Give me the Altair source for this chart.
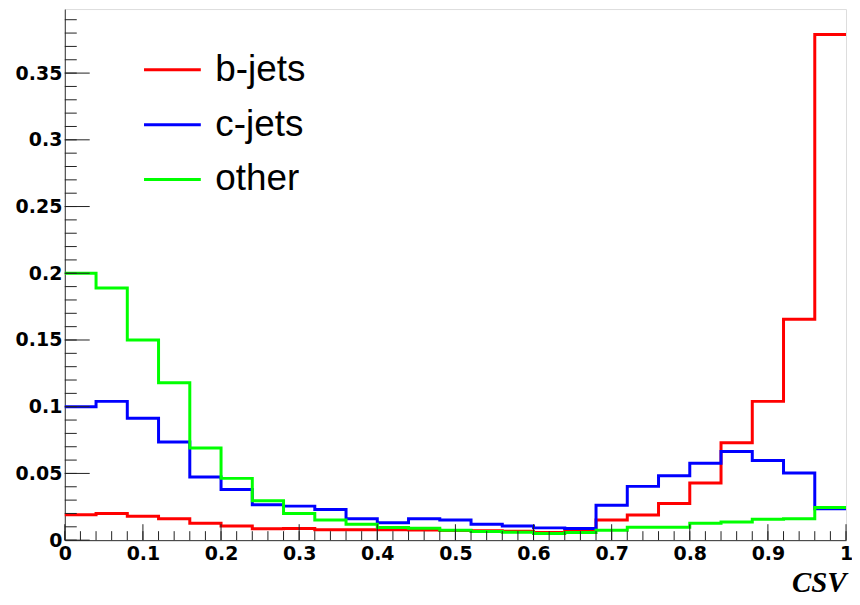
import altair as alt
import pandas as pd
import numpy as np

# 25 bins of width 0.04 on [0, 1]
bin_edges = [round(0.04 * i, 2) for i in range(26)]

b_jets = [0.019, 0.020, 0.018, 0.016, 0.0126, 0.0106, 0.0085, 0.0087, 0.0078, 0.0078,
          0.0078, 0.0076, 0.0073, 0.0071, 0.0066, 0.0057, 0.0077, 0.0151, 0.0188, 0.0275,
          0.0429, 0.073, 0.104, 0.1655, 0.379]
c_jets = [0.100, 0.104, 0.0914, 0.0736, 0.0473, 0.0379, 0.0265, 0.0255, 0.023, 0.0161,
          0.0131, 0.0161, 0.0151, 0.0119, 0.0106, 0.0092, 0.0087, 0.0262, 0.0403, 0.0483,
          0.0577, 0.0664, 0.0597, 0.0503, 0.0235]
other = [0.200, 0.189, 0.150, 0.118, 0.069, 0.0463, 0.0295, 0.020, 0.0151, 0.0119,
         0.0094, 0.0089, 0.0074, 0.0065, 0.0060, 0.0050, 0.0057, 0.0074, 0.0097, 0.0097,
         0.0126, 0.0136, 0.0156, 0.0161, 0.0245]

series_names = ["b-jets", "c-jets", "other"]
series_colors = ["#ff0000", "#0000ff", "#00ff00"]

y_major = [0, 0.05, 0.1, 0.15, 0.2, 0.25, 0.3, 0.35]
y_minor = [round(0.01 * i, 2) for i in range(40)]
x_major = [round(0.1 * i, 1) for i in range(11)]
x_minor = [round(0.02 * i, 2) for i in range(51)]

rows = []
for name, vals in zip(series_names, [b_jets, c_jets, other]):
    for i, e in enumerate(bin_edges):
        v = vals[i] if i < len(vals) else vals[-1]
        rows.append({"series": name, "x": e, "y": v})
df = pd.DataFrame(rows)

W, H = 784, 533
xs = alt.Scale(domain=[0, 1], nice=False, zero=False)
ys = alt.Scale(domain=[0, 0.398], nice=False, zero=False)

x_axis = alt.Axis(
    values=x_major, format=".1~f", title="CSV", tickSize=0,
    labelFont="DejaVu Sans", labelFontWeight="bold", labelFontSize=19,
    labelColor="black", labelPadding=4, domainColor="#333", domainWidth=1,
    titleFont="Liberation Serif", titleFontStyle="italic", titleFontWeight="bold",
    titleFontSize=29, titleColor="black", titleAnchor="end", titlePadding=6,
    grid=False, labelFlush=False)
y_axis = alt.Axis(
    values=y_major, format=".2~f", title=None, tickSize=0,
    labelFont="DejaVu Sans", labelFontWeight="bold", labelFontSize=19,
    labelColor="black", labelPadding=3, domainColor="#333", domainWidth=1,
    grid=False, labelFlush=False)

lines = alt.Chart(df).mark_line(interpolate="step-after", strokeWidth=3).encode(
    x=alt.X("x:Q", scale=xs, axis=x_axis),
    y=alt.Y("y:Q", scale=ys, axis=y_axis),
    color=alt.Color("series:N",
                    scale=alt.Scale(domain=series_names, range=series_colors),
                    legend=alt.Legend(orient="none", legendX=78, legendY=31, title=None,
                                      symbolType="stroke", symbolStrokeWidth=3,
                                      symbolSize=3249, labelFontSize=37,
                                      labelFont="Liberation Sans", labelColor="black",
                                      labelOffset=13, rowPadding=7, padding=0)),
)

tick_col = "#222"
ymaj = alt.Chart(pd.DataFrame({"v": y_major})).mark_rule(color=tick_col, strokeWidth=1).encode(
    y=alt.Y("v:Q", scale=ys, axis=y_axis), x=alt.value(0), x2=alt.value(25))
ymin = alt.Chart(pd.DataFrame({"v": y_minor})).mark_rule(color=tick_col, strokeWidth=1).encode(
    y=alt.Y("v:Q", scale=ys, axis=y_axis), x=alt.value(0), x2=alt.value(12))
xmaj = alt.Chart(pd.DataFrame({"v": x_major})).mark_rule(color=tick_col, strokeWidth=1).encode(
    x=alt.X("v:Q", scale=xs, axis=x_axis), y=alt.value(H), y2=alt.value(H - 16))
xmin = alt.Chart(pd.DataFrame({"v": x_minor})).mark_rule(color=tick_col, strokeWidth=1).encode(
    x=alt.X("v:Q", scale=xs, axis=x_axis), y=alt.value(H), y2=alt.value(H - 9))

chart = alt.layer(lines, ymin, ymaj, xmin, xmaj).properties(
    width=W, height=H,
    autosize=alt.AutoSizeParams(type="none"),
    padding={"left": 57, "top": 0, "right": 6, "bottom": 56},
).configure_view(stroke="#333", strokeWidth=1.5).configure(background="white")

chart.save("out.html", embed_options={"renderer": "svg", "actions": False})
